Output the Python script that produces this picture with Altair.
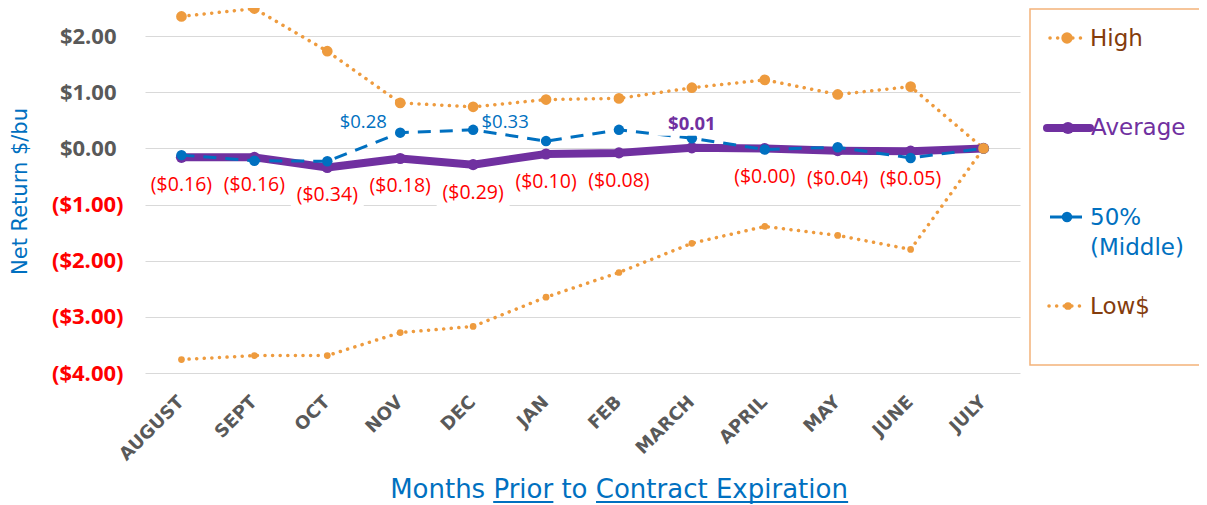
import altair as alt
import pandas as pd

# ---------------- data ----------------
months = ["AUGUST", "SEPT", "OCT", "NOV", "DEC", "JAN", "FEB",
          "MARCH", "APRIL", "MAY", "JUNE", "JULY"]
high = [2.35, 2.49, 1.73, 0.81, 0.74, 0.87, 0.89, 1.08, 1.22, 0.96, 1.10, 0.00]
low = [-3.76, -3.69, -3.69, -3.28, -3.17, -2.65, -2.21, -1.69, -1.39, -1.55, -1.80, 0.00]
average = [-0.16, -0.16, -0.34, -0.18, -0.29, -0.10, -0.08, 0.01, -0.004, -0.04, -0.05, 0.00]
middle = [-0.12, -0.22, -0.23, 0.28, 0.33, 0.13, 0.33, 0.18, -0.02, 0.02, -0.17, 0.00]
y_ticks = [-4, -3, -2, -1, 0, 1, 2]
mid_label_left = ["NOV"]
mid_label_right = ["DEC"]

series_names = ["High", "Average", "50%", "(Middle)", "Low$"]
x_title_parts = ["Months ", "Prior", " to ", "Contract Expiration"]

df = pd.DataFrame({"month": months, "high": high, "low": low,
                   "average": average, "middle": middle})

# ---------------- styles ----------------
FONT = "DejaVu Sans"
LFONT = "Open Sans"
ORANGE = "#EE9B3E"
PURPLE = "#7030A0"
BLUE = "#0070C0"
RED = "#FF0000"
GRAY = "#595959"
BROWN = "#843C0C"
DOT = [0.1, 7.5]
DASH = [13, 9]

xscale = alt.Scale(type="band", paddingInner=0, paddingOuter=0)
yscale = alt.Scale(domain=[-4, 2.5], nice=False, zero=False)

xaxis = alt.Axis(title=None, labelAngle=-45, labelAlign="right", labelBaseline="middle",
                 labelFont=FONT, labelFontSize=18, labelFontWeight="bold",
                 labelColor=GRAY, labelPadding=26, ticks=False, tickSize=0,
                 domain=False, grid=False)
yaxis = alt.Axis(values=y_ticks, title="Net Return $/bu", grid=True,
                 gridColor="#D9D9D9", gridWidth=1, domain=False, ticks=False,
                 tickSize=0,
                 labelPadding={"condition": {"test": "datum.value < 0", "value": 22},
                               "value": 29},
                 labelFont=LFONT, labelFontSize=22, labelFontWeight="bold",
                 labelColor={"condition": {"test": "datum.value < 0", "value": RED},
                             "value": GRAY},
                 labelExpr="datum.value < 0 ? '($' + format(-datum.value, '.2f') + ')' : '$' + format(datum.value, '.2f')",
                 titleFont=FONT, titleFontSize=21, titleFontWeight="normal",
                 titleColor=BLUE, titleX=-125, titleY=183, titleAngle=-90,
                 titleAlign="center", titleBaseline="middle")


def X():
    return alt.X("month:N", sort=months, scale=xscale, axis=xaxis)


def Y(f):
    return alt.Y(f"{f}:Q", scale=yscale, axis=yaxis)


base = alt.Chart(df)

# white boxes behind the average labels
boxes = base.transform_filter("datum.average < 0").mark_rect(
    fill="white", yOffset=11, y2Offset=44
).encode(x=X(), y=Y("average"), y2="average:Q")

high_line = base.mark_line(color=ORANGE, strokeWidth=3.5, strokeDash=DOT,
                           strokeCap="round").encode(x=X(), y=Y("high"))
low_line = base.mark_line(color=ORANGE, strokeWidth=3.5, strokeDash=DOT,
                          strokeCap="round").encode(x=X(), y=Y("low"))
avg_line = base.mark_line(color=PURPLE, strokeWidth=8, strokeJoin="round").encode(
    x=X(), y=Y("average"))
avg_pts = base.mark_point(filled=True, color=PURPLE, size=125, opacity=1).encode(
    x=X(), y=Y("average"))
mid_line = base.mark_line(color=BLUE, strokeWidth=3, strokeDash=DASH).encode(
    x=X(), y=Y("middle"))
mid_pts = base.mark_point(filled=True, color=BLUE, size=110, opacity=1).encode(
    x=X(), y=Y("middle"))
high_pts = base.mark_point(filled=True, color=ORANGE, size=115, opacity=1).encode(
    x=X(), y=Y("high"))
low_pts = base.mark_point(filled=True, color=ORANGE, size=45, opacity=1).encode(
    x=X(), y=Y("low"))

pos_box = base.transform_filter("datum.average > 0").mark_rect(
    fill="white", yOffset=-36, y2Offset=-12
).encode(x=X(), y=Y("average"), y2="average:Q")

red_labels = base.transform_filter("datum.average < 0").transform_calculate(
    lab="'($' + format(abs(datum.average), '.2f') + ')'"
).mark_text(dy=28, font=LFONT, fontSize=19.5, color=RED, baseline="middle",
            align="center").encode(x=X(), y=Y("average"), text="lab:N")

pos_labels = base.transform_filter("datum.average > 0").transform_calculate(
    lab="'$' + format(datum.average, '.2f')"
).mark_text(dy=-24, font=LFONT, fontSize=18.5, fontWeight="bold", color=PURPLE,
            baseline="middle", align="center").encode(x=X(), y=Y("average"), text="lab:N")

mid_lab_l = base.transform_filter(
    alt.FieldOneOfPredicate(field="month", oneOf=mid_label_left)
).transform_calculate(lab="'$' + format(datum.middle, '.2f')").mark_text(
    dx=-37, dy=-11, font=LFONT, fontSize=18.5, color=BLUE, baseline="middle",
    align="center").encode(x=X(), y=Y("middle"), text="lab:N")

mid_lab_r = base.transform_filter(
    alt.FieldOneOfPredicate(field="month", oneOf=mid_label_right)
).transform_calculate(lab="'$' + format(datum.middle, '.2f')").mark_text(
    dx=32, dy=-8, font=LFONT, fontSize=18.5, color=BLUE, baseline="middle",
    align="center").encode(x=X(), y=Y("middle"), text="lab:N")

# ---------------- legend (decoration) ----------------
one = pd.DataFrame({"k": [0]})
leg_box = alt.Chart(one).mark_rect(fillOpacity=0, stroke="#F3B27A", strokeWidth=1.5).encode(
    x=alt.value(885), x2=alt.value(1100), y=alt.value(1), y2=alt.value(357))


def leg_line(x1, x2, y, **kw):
    return alt.Chart(one).mark_rule(**kw).encode(
        x=alt.value(x1), x2=alt.value(x2), y=alt.value(y))


def leg_pt(x, y, **kw):
    return alt.Chart(one).mark_point(filled=True, opacity=1, **kw).encode(
        x=alt.value(x), y=alt.value(y))


def leg_text(txt, x, y, color):
    return alt.Chart(one).mark_text(text=txt, font=FONT, fontSize=23, color=color,
                                    align="left", baseline="middle").encode(
        x=alt.value(x), y=alt.value(y))


legend = [
    leg_box,
    leg_line(905, 942, 30, color=ORANGE, strokeWidth=3.5, strokeDash=DOT, strokeCap="round"),
    leg_pt(922, 30, color=ORANGE, size=130),
    leg_text(series_names[0], 945, 31, BROWN),
    leg_line(902, 945, 120, color=PURPLE, strokeWidth=8, strokeCap="round"),
    leg_pt(923, 120, color=PURPLE, size=150),
    leg_text(series_names[1], 946, 120, PURPLE),
    leg_line(905, 937, 209, color=BLUE, strokeWidth=3),
    leg_pt(922, 209, color=BLUE, size=110),
    leg_text(series_names[2], 945, 210, BLUE),
    leg_text(series_names[3], 945, 240, BLUE),
    leg_line(904, 940, 298, color=ORANGE, strokeWidth=3.5, strokeDash=DOT, strokeCap="round"),
    leg_pt(923, 298, color=ORANGE, size=60),
    leg_text(series_names[4], 945, 299, BROWN),
]

# ---------------- x title with underlines ----------------
TF = 26
em = {"Months ": 3.974, "Prior": 2.315, " to ": 1.64, "Contract Expiration": 9.697}
total = sum(em[p] for p in x_title_parts) * TF
cx = 474
start = cx - total / 2
pos = [start]
for p in x_title_parts:
    pos.append(pos[-1] + em[p] * TF)

title_txt = alt.Chart(one).mark_text(
    text="".join(x_title_parts), font=FONT, fontSize=TF, color=BLUE,
    align="center", baseline="alphabetic").encode(x=alt.value(cx), y=alt.value(490))
ul1 = leg_line(pos[1], pos[2], 494, color=BLUE, strokeWidth=2)
ul2 = leg_line(pos[3], pos[4], 494, color=BLUE, strokeWidth=2)

chart = alt.layer(
    boxes, high_line, low_line, avg_line, avg_pts, mid_line, mid_pts,
    high_pts, low_pts, pos_box, red_labels, pos_labels, mid_lab_l, mid_lab_r,
    *legend, title_txt, ul1, ul2
).properties(
    width=875, height=365,
    autosize=alt.AutoSizeParams(type="none"),
    padding={"left": 137, "top": 0, "right": 179, "bottom": 132},
).configure_view(stroke=None)

chart.save("out.html", embed_options={"renderer": "svg", "actions": False})
